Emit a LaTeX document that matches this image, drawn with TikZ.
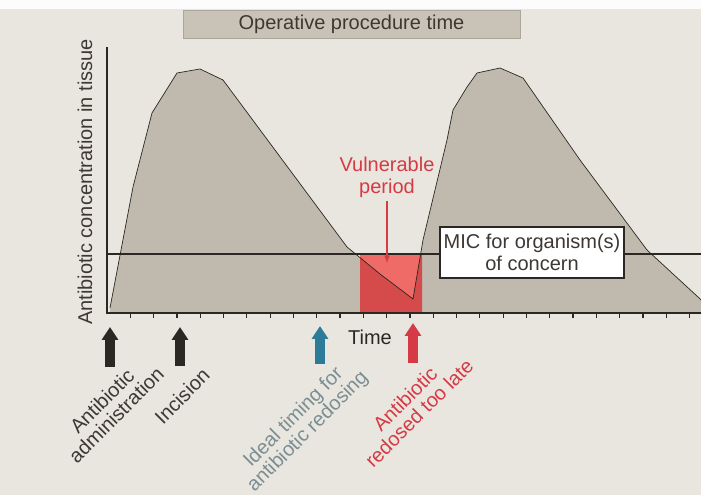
\documentclass[tikz,border=0pt]{standalone}
\usepackage{fontspec}
\setmainfont{Liberation Sans}
\usetikzlibrary{arrows.meta}
\definecolor{paper}{HTML}{E9E6DF}
\definecolor{ink}{HTML}{2B2723}
\definecolor{txt}{HTML}{3D3833}
\definecolor{drug}{HTML}{C0BAAE}
\definecolor{vlight}{HTML}{EF6B67}
\definecolor{vdark}{HTML}{D54A4A}
\definecolor{late}{HTML}{D63A44}
\definecolor{ideal}{HTML}{2C7B98}
\definecolor{idealtxt}{HTML}{7A8E93}
\definecolor{boxgray}{HTML}{C9C3B7}
\tikzset{
	lbl/.style={font=\fontsize{20}{20}\selectfont,align=center,rotate=45,inner sep=1pt},
	blockarrow/.style={line width=10pt,-{Triangle[length=13pt,width=16pt]}},
}
\def\conc{(110,187)(133,308)(152,382)(177,422)(200,426)(223,415)(347,248)(380,221)(413,196)(423,255)(447,355)(453,385)(467,408)(477,422)(500,427)(523,417)(580,335)(647,245)(698,198)(701,195)}

\begin{document}
\begin{tikzpicture}[x=1pt,y=1pt,font=\fontsize{20}{22}\selectfont]
			\fill[paper](0,0)rectangle(701,495);
			\fill[white!90!paper](0,486)rectangle(701,495);
			\useasboundingbox(0,0)rectangle(701,495);
			% concentration curves
			\fill[drug](110,182)--plot coordinates{\conc}--(701,182)--cycle;
			\begin{scope}
				\clip(360,182)rectangle(422,241);
				\fill[vlight](360,182)rectangle(422,241);
				\fill[vdark](110,182)--plot coordinates{\conc}--(701,182)--cycle;
			\end{scope}
			\draw[ink,line width=.7pt]plot coordinates{\conc};
			% axes and MIC
			\draw[ink,line width=1.8pt](107,241)--(701,241);
			\draw[ink,line width=2pt](107,448)--(107,182)--(701,182);
			\foreach \i in {1,...,25}\draw[ink,line width=1.2pt](107+23.3*\i,182)--++(0,-5);
			\node[rotate=90,text=txt](ylab)at(85,313){Antibiotic concentration in tissue};
			\node[fill=boxgray,draw=boxgray!85!black,minimum width=337pt,minimum height=28pt,text=txt](op)at(351.5,471){Operative procedure time};
			\node[draw=ink,line width=1.6pt,fill=white,minimum width=184pt,minimum height=51pt,align=center,inner sep=2pt,text=txt](mic)at(532,242.5){MIC for organism(s)\\of concern};
			\node[text=late,align=center](vuln)at(387,318){Vulnerable\\period};
			\coordinate(vtip)at(387,232);
			\draw[late,line width=1.5pt,-latex](vuln)--(vtip);
			\node[text=ink](time)at(370,158){Time};
			% dosing events
			\coordinate(adm0)at(110,128);\coordinate(adm1)at(110,168);
			\coordinate(inc0)at(180,129);\coordinate(inc1)at(180,168);
			\coordinate(ide0)at(320,131);\coordinate(ide1)at(320,169);
			\coordinate(lat0)at(413,132);\coordinate(lat1)at(413,172);
			\draw[blockarrow,ink](adm0)--(adm1);
			\draw[blockarrow,ink](inc0)--(inc1);
			\draw[blockarrow,ideal](ide0)--(ide1);
			\draw[blockarrow,late](lat0)--(lat1);
			\node[lbl,text=txt](adm)at(109,87){Antibiotic\\administration};
			\node[lbl,text=txt](inc)at(182,99){Incision};
			\node[lbl,text=idealtxt](ide)at(301,70){Ideal timing for\\antibiotic redosing};
			\node[lbl,text=late](lat)at(412,89){Antibiotic\\redosed too late};
		\end{tikzpicture}
\end{document}
